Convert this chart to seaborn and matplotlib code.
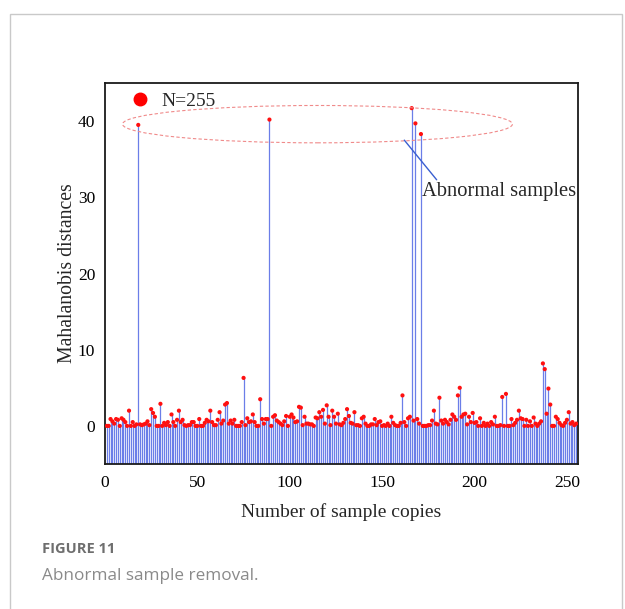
import numpy as np
import pandas as pd
import matplotlib
matplotlib.use("Agg")
import matplotlib.pyplot as plt
import seaborn as sns
from matplotlib.patches import Ellipse, Rectangle
from matplotlib.lines import Line2D

# ---------------- data ----------------
sample_no = np.arange(1, 256)
distances = [
    0.0, 0.0, 0.9, 0.6, 0.3, 0.9, 0.8, 0.0, 1.0, 0.8,
    0.5, 0.0, 2.0, 0.0, 0.5, 0.0, 0.2, 39.5, 0.2, 0.1,
    0.2, 0.3, 0.6, 0.1, 2.2, 1.7, 1.2, 0.0, 0.0, 2.9,
    0.0, 0.4, 0.1, 0.5, 0.0, 1.5, 0.5, 0.0, 0.8, 2.0,
    0.5, 0.8, 0.1, 0.0, 0.1, 0.1, 0.5, 0.5, 0.0, 0.0,
    0.9, 0.0, 0.0, 0.4, 0.8, 0.6, 2.0, 0.5, 0.1, 0.1,
    0.8, 1.8, 0.3, 0.7, 2.8, 3.0, 0.3, 0.7, 0.3, 0.8,
    0.0, 0.0, 0.0, 0.5, 6.3, 0.1, 1.0, 0.5, 0.6, 1.5,
    0.5, 0.0, 0.0, 3.5, 0.9, 0.3, 0.9, 0.9, 40.2, 0.0,
    1.2, 1.4, 0.7, 0.5, 0.3, 0.1, 0.6, 1.3, 0.0, 1.2,
    1.5, 1.1, 0.5, 0.6, 2.5, 2.4, 0.1, 1.2, 0.3, 0.3,
    0.2, 0.2, 0.0, 1.1, 1.0, 1.8, 1.2, 2.1, 0.3, 2.7,
    1.2, 0.1, 2.0, 1.2, 0.3, 1.6, 0.2, 0.1, 0.4, 0.9,
    2.2, 1.3, 0.4, 0.3, 1.8, 0.1, 0.1, 0.0, 1.0, 1.2,
    0.3, 0.0, 0.0, 0.2, 0.2, 0.9, 0.1, 0.5, 0.6, 0.0,
    0.1, 0.0, 0.3, 0.0, 1.2, 0.4, 0.1, 0.0, 0.0, 0.4,
    4.0, 0.5, 0.0, 1.0, 1.2, 41.7, 0.7, 39.7, 0.9, 0.3,
    38.3, 0.0, 0.0, 0.0, 0.1, 0.1, 0.7, 2.0, 0.3, 0.2,
    3.7, 0.7, 0.3, 0.8, 0.5, 0.2, 0.8, 1.5, 1.2, 0.8,
    4.0, 5.0, 1.2, 1.5, 1.6, 0.2, 1.2, 0.5, 1.7, 0.4,
    0.5, 0.0, 1.0, 0.0, 0.4, 0.0, 0.3, 0.0, 0.5, 0.2,
    1.2, 0.0, 0.0, 0.1, 3.8, 0.0, 4.2, 0.0, 0.0, 0.9,
    0.1, 0.4, 0.8, 2.0, 1.0, 0.9, 0.0, 0.8, 0.0, 0.6,
    0.0, 1.1, 0.3, 0.0, 0.3, 0.6, 8.2, 7.45, 1.6, 4.9,
    2.8, 0.0, 0.0, 1.2, 0.9, 0.4, 0.1, 0.0, 0.4, 0.8,
    1.8, 0.3, 0.5, 0.1, 0.3,
]
x_ticks = [0, 50, 100, 150, 200, 250]
y_ticks = [0, 10, 20, 30, 40]
legend_label = "N=255"
annot_text = "Abnormal samples"
x_label = "Number of sample copies"
y_label = "Mahalanobis distances"
fig_label = "FIGURE 11"
fig_caption = "Abnormal sample removal."

df = pd.DataFrame({"n": sample_no, "d": distances})

# ---------------- style ----------------
sns.set_style("white")
plt.rcParams["font.family"] = ["Liberation Serif", "DejaVu Serif"]

W, H = 625, 609
fig = plt.figure(figsize=(W / 100, H / 100), dpi=100)
fig.patch.set_facecolor("white")

# outer light-gray card frame
fig.add_artist(Rectangle((10 / W, -0.05), 612 / W, 1 - 14 / H + 0.05,
                         transform=fig.transFigure, fill=False,
                         ec="#c9c9c9", lw=1.0))

ax = fig.add_axes([105 / W, 1 - 464 / H, (578 - 105) / W, (464 - 83) / H])

ymin, ymax = -5, 45
ax.vlines(df["n"], ymin, df["d"], color="#6b7ee8", lw=0.9, zorder=2)
sns.scatterplot(data=df, x="n", y="d", color="#ff1010", s=9,
                edgecolor="none", ax=ax, legend=False, zorder=3)

ax.set_xlim(0, 256)
ax.set_ylim(ymin, ymax)
ax.set_xticks(x_ticks)
ax.set_yticks(y_ticks)
ax.tick_params(direction="in", length=5, width=1.0, labelsize=12.5,
               colors="black")
ax.tick_params(axis="x", pad=8)
ax.tick_params(axis="y", pad=7)
for s in ax.spines.values():
    s.set_visible(True)
    s.set_color("#1a1a1a")
    s.set_linewidth(1.3)

ax.set_xlabel(x_label, fontsize=14, labelpad=9)
ax.set_ylabel(y_label, fontsize=14.2, labelpad=1)

# dashed ellipse around the abnormal samples
ell = Ellipse((115.0, 39.6), 211, 4.9, fill=False, ls=(0, (3, 2)),
              ec="#f08a8a", lw=0.8, zorder=4)
ax.add_patch(ell)

# annotation
ax.plot([162, 179.5], [37.5, 32.3], color="#3a5fd0", lw=1.0, zorder=4)
ax.text(171.5, 30.8, annot_text, fontsize=14.8, va="center", ha="left")

# legend
handle = Line2D([], [], marker="o", color="#ff0000", ls="", markersize=9)
ax.legend([handle], [legend_label], loc="center left",
          bbox_to_anchor=(0.05, 0.952), frameon=False,
          prop={"size": 14}, handletextpad=0.5, handlelength=1.2,
          borderpad=0, borderaxespad=0)

# caption
fig.text(42 / W, 1 - 549 / H, fig_label, fontsize=10.5, fontweight="bold",
         color="#6e6e6e", va="center", ha="left",
         family=["Open Sans", "DejaVu Sans"])
fig.text(42 / W, 1 - 576 / H, fig_caption, fontsize=12.3,
         color="#8a8a8a", va="center", ha="left",
         family=["Open Sans", "DejaVu Sans"])

fig.savefig("out.png", dpi=100, facecolor="white")
